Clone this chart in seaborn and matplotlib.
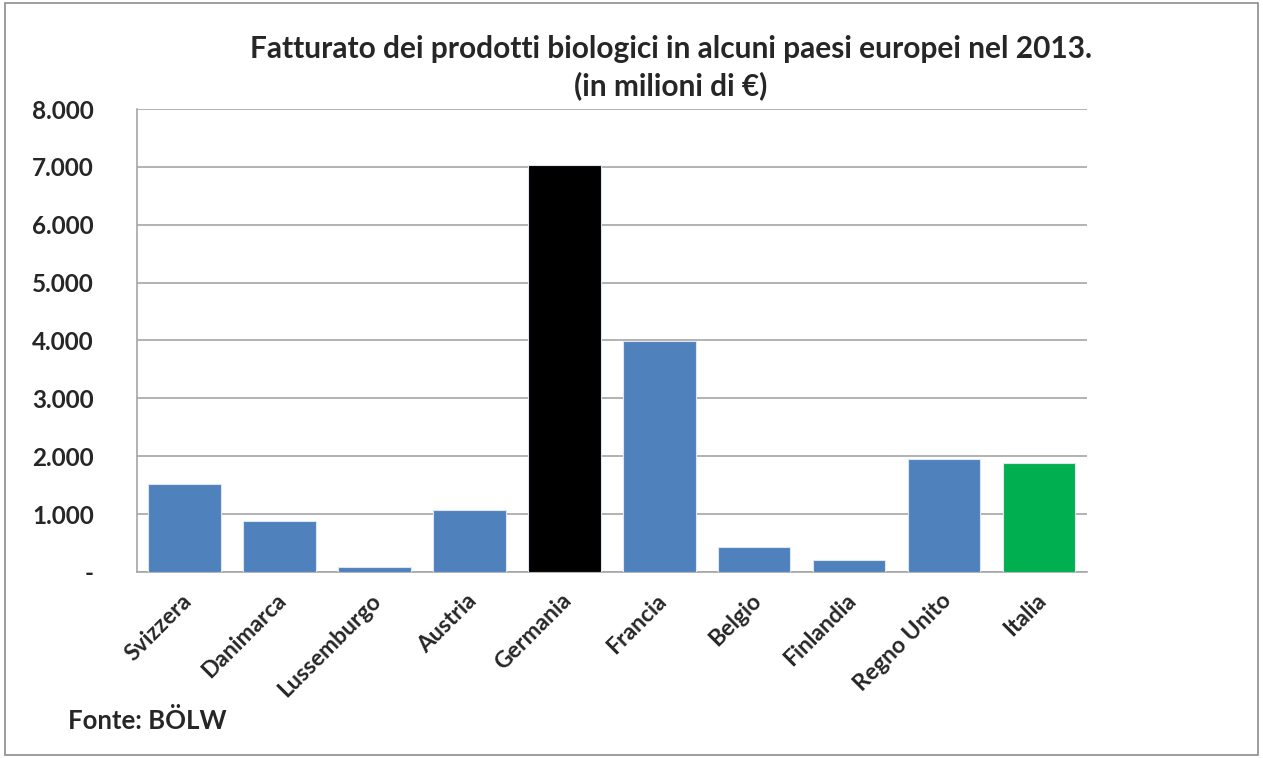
import matplotlib
matplotlib.use('Agg')
import matplotlib.pyplot as plt
import matplotlib.transforms as mtransforms
from matplotlib.patches import Rectangle
from matplotlib.ticker import FuncFormatter, FixedLocator
import seaborn as sns
import pandas as pd

paesi = ['Svizzera', 'Danimarca', 'Lussemburgo', 'Austria', 'Germania',
         'Francia', 'Belgio', 'Finlandia', 'Regno Unito', 'Italia']
fatturato = [1520, 875, 85, 1065, 7040, 3995, 430, 215, 1955, 1890]
colori = ['#4F81BD', '#4F81BD', '#4F81BD', '#4F81BD', '#000000',
          '#4F81BD', '#4F81BD', '#4F81BD', '#4F81BD', '#00B050']
y_ticks = [0, 1000, 2000, 3000, 4000, 5000, 6000, 7000, 8000]

sns.set_style('white')
plt.rcParams['font.family'] = ['Lato', 'DejaVu Sans']

df = pd.DataFrame({'paese': paesi, 'fatturato': fatturato})

fig = plt.figure(figsize=(12.63, 7.58), dpi=100)
ax = fig.add_axes([0.1085, 0.2454, 0.752, 0.6108])

sns.barplot(data=df, x='paese', y='fatturato', hue='paese', palette=colori,
            legend=False, width=0.76, edgecolor='#dde6f0', linewidth=0.8,
            saturation=1, ax=ax, zorder=3)

ax.set_xlim(-0.5, len(paesi) - 0.5)
ax.set_ylim(0, 8000)
ax.set_xlabel('')
ax.set_ylabel('')

ax.yaxis.set_major_locator(FixedLocator(y_ticks))
ax.yaxis.set_major_formatter(FuncFormatter(
    lambda v, p: '-' if v == 0 else f'{int(v):,}'.replace(',', '.')))
ax.grid(axis='y', color='#a6a6a6', linewidth=1.2, zorder=0)

for s in ['top', 'right']:
    ax.spines[s].set_visible(False)
for s in ['left', 'bottom']:
    ax.spines[s].set_color('#a6a6a6')
    ax.spines[s].set_linewidth(1.2)

ax.tick_params(axis='y', length=9, width=1.2, color='#a6a6a6', pad=22,
               labelsize=17.5)
ax.tick_params(axis='x', which='major', length=0, pad=0, labelsize=16.5)
ax.set_xticks([i - 0.5 for i in range(len(paesi) + 1)], minor=True)
ax.tick_params(axis='x', which='minor', length=7, width=1.2, color='#a6a6a6')

for lab in ax.get_yticklabels():
    lab.set_fontweight('bold')
# Excel-style: upper right end of each rotated label sits under the bar centre
offset = mtransforms.ScaledTranslation(-4 / 100, -18 / 100, fig.dpi_scale_trans)
for lab in ax.get_xticklabels():
    lab.set_rotation(45)
    lab.set_ha('right')
    lab.set_rotation_mode('anchor')
    lab.set_fontweight('bold')
    lab.set_transform(lab.get_transform() + offset)

fig.text(0.531, 0.935, 'Fatturato dei prodotti biologici in alcuni paesi europei nel 2013.',
         ha='center', va='center', fontsize=21.5, fontweight='bold')
fig.text(0.531, 0.887, '(in milioni di €)', ha='center', va='center',
         fontsize=21.5, fontweight='bold')
fig.text(0.054, 0.05, 'Fonte: BÖLW', ha='left', va='center',
         fontsize=18.5, fontweight='bold')

fig.patches.append(Rectangle((0.004, 0.004), 0.992, 0.992, transform=fig.transFigure,
                             fill=False, edgecolor='#8c8c8c', linewidth=1.2))

fig.savefig('out.png', dpi=100)
plt.close(fig)
